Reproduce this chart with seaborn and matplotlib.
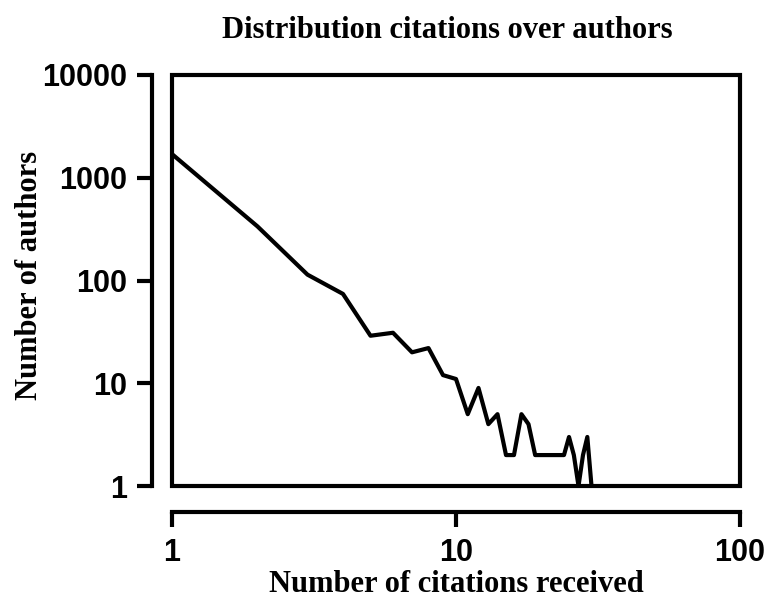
import matplotlib
matplotlib.use("Agg")
import matplotlib.pyplot as plt
import seaborn as sns
import pandas as pd
from matplotlib.patches import Rectangle
from matplotlib.ticker import FixedLocator, NullLocator

# Data (citations received -> number of authors)
citations = [1, 2, 3, 4, 5, 6, 7, 8, 9, 10, 11, 12, 13, 14, 15, 16, 17, 18, 19,
             20, 21, 22, 23, 24, 25, 26, 27, 28, 29, 30]
authors = [1700, 336, 114, 74, 29, 31, 20, 22, 12, 11, 5, 9, 4, 5, 2, 2, 5, 4, 2,
           2, 2, 2, 2, 2, 3, 2, 1, 2, 3, 1]

x_ticks = [1, 10, 100]
x_labels = ["1", "10", "100"]
y_ticks = [1, 10, 100, 1000, 10000]
y_labels = ["1", "10", "100", "1000", "10000"]

df = pd.DataFrame({"citations": citations, "authors": authors})

sns.set_theme(style="white")
plt.rcParams["font.family"] = ["Liberation Sans", "DejaVu Sans"]
plt.rcParams["text.color"] = "black"
plt.rcParams["axes.labelcolor"] = "black"

lw = 3.0
fig = plt.figure(figsize=(7.69, 6.0), dpi=100)
ax = fig.add_axes([172 / 769, 114 / 600, 568 / 769, 411 / 600])

sns.lineplot(data=df, x="citations", y="authors", color="black",
             linewidth=lw, ax=ax, clip_on=False)

ax.set_xscale("log")
ax.set_yscale("log")
ax.set_xlim(1, 100)
ax.set_ylim(1, 10000)

# R-style: box around plot, axes offset outward
ax.add_patch(Rectangle((0, 0), 1, 1, transform=ax.transAxes, fill=False,
                       edgecolor="black", linewidth=lw, clip_on=False, zorder=5))
for s in ["top", "right"]:
    ax.spines[s].set_visible(False)
ax.spines["left"].set_position(("outward", 14.5))
ax.spines["bottom"].set_position(("outward", 18.5))
for s in ["left", "bottom"]:
    ax.spines[s].set_color("black")
    ax.spines[s].set_linewidth(lw)
    ax.spines[s].set_capstyle("projecting")

ax.xaxis.set_major_locator(FixedLocator(x_ticks))
ax.xaxis.set_minor_locator(NullLocator())
ax.set_xticklabels(x_labels)
ax.yaxis.set_major_locator(FixedLocator(y_ticks))
ax.yaxis.set_minor_locator(NullLocator())
ax.set_yticklabels(y_labels)

ax.tick_params(axis="both", which="major", direction="out", length=11,
               width=lw, color="black", labelsize=22, labelcolor="black",
               bottom=True, left=True)
ax.tick_params(axis="x", pad=8)
ax.tick_params(axis="y", pad=7)
for lab in ax.get_xticklabels() + ax.get_yticklabels():
    lab.set_fontweight("bold")

serif = ["Liberation Serif", "DejaVu Serif"]
ax.set_title("Distribution citations over authors", family=serif,
             fontweight="bold", fontsize=22, pad=27, color="black",
             x=(447 - 172) / 568)
ax.set_xlabel("Number of citations received", family=serif,
              fontweight="bold", fontsize=22, color="black")
ax.set_ylabel("Number of authors", family=serif, fontweight="bold",
              fontsize=22, color="black")
ax.xaxis.label.set_va("baseline")
ax.xaxis.set_label_coords(0.5, -(592 - 486) / 411)
ax.yaxis.label.set_va("baseline")
ax.yaxis.label.set_rotation_mode("anchor")
ax.yaxis.set_label_coords((37 - 172) / 568, (486 - 275) / 411)

ax.grid(False)
fig.savefig("out.png", dpi=100)
